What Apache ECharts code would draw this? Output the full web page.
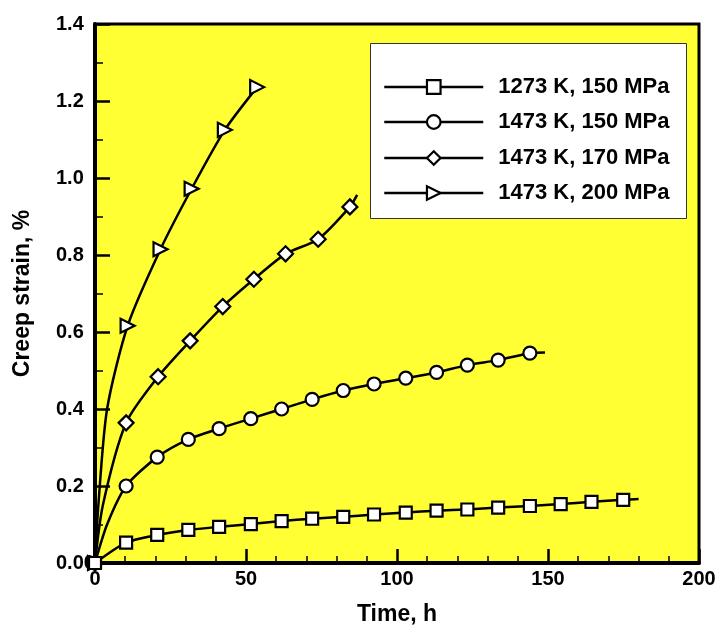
<!DOCTYPE html>
<html>
<head>
<meta charset="utf-8">
<script src="https://cdn.jsdelivr.net/npm/echarts@6/dist/echarts.min.js"></script>
<style>
html,body{margin:0;padding:0;background:#fff;}
#chart{width:718px;height:627px;}
</style>
</head>
<body>
<div id="chart"></div>
<script>
// ---- data ----
const seriesNames = ['1273 K, 150 MPa', '1473 K, 150 MPa', '1473 K, 170 MPa', '1473 K, 200 MPa'];

// 1273 K, 150 MPa (squares)
const sqMarkT = [0, 10.3, 20.6, 30.9, 41.1, 51.6, 61.8, 71.9, 82.2, 92.4, 102.9, 113.1, 123.3, 133.5, 144.0, 154.2, 164.4, 174.9];
const sqMarkV = [0, 0.053, 0.073, 0.086, 0.094, 0.101, 0.109, 0.115, 0.120, 0.126, 0.131, 0.136, 0.139, 0.144, 0.148, 0.153, 0.159, 0.164];
const sqCurveT = [180];
const sqCurveV = [0.166];

// 1473 K, 150 MPa (circles)
const ciMarkT = [0, 10.3, 20.6, 30.9, 41.1, 51.6, 61.8, 71.9, 82.2, 92.4, 102.9, 113.1, 123.3, 133.5, 144.0];
const ciMarkV = [0, 0.200, 0.275, 0.321, 0.349, 0.375, 0.400, 0.425, 0.448, 0.465, 0.480, 0.495, 0.514, 0.527, 0.545];
const ciCurveT = [4.0, 149];
const ciCurveV = [0.100, 0.547];

// 1473 K, 170 MPa (diamonds)
const diMarkT = [0, 10.3, 20.9, 31.5, 42.3, 52.6, 63.1, 73.9, 84.4];
const diMarkV = [0, 0.364, 0.484, 0.577, 0.666, 0.737, 0.803, 0.841, 0.925];
const diCurveT = [2.6, 86.8];
const diCurveV = [0.150, 0.956];

// 1473 K, 200 MPa (right triangles)
const trMarkT = [0, 10.8, 21.7, 32.0, 43.0, 53.7];
const trMarkV = [0, 0.616, 0.815, 0.972, 1.125, 1.236];
const trCurveT = [1.2, 4.0];
const trCurveV = [0.160, 0.400];

// axes
const xTicks = [0, 50, 100, 150, 200];
const yTicks = [0, 0.2, 0.4, 0.6, 0.8, 1.0, 1.2, 1.4];

// ---- build ----
function build(mT, mV, cT, cV) {
  const pts = [];
  mT.forEach((t, i) => pts.push({ value: [t, mV[i]] }));
  cT.forEach((t, i) => pts.push({ value: [t, cV[i]], symbol: 'none' }));
  pts.sort((a, b) => a.value[0] - b.value[0]);
  return pts;
}

const FONT = '"Liberation Sans", Arial, sans-serif';

function mkSeries(name, data, symbol, size, rotate, z) {
  return {
    name: name,
    type: 'line',
    data: data,
    smooth: 0.25,
    symbol: symbol,
    symbolSize: size,
    symbolRotate: rotate,
    showSymbol: true,
    z: z,
    lineStyle: { color: '#000', width: 2.5 },
    itemStyle: { color: '#fff', borderColor: '#000', borderWidth: 2.2 },
    emphasis: { disabled: true },
    animation: false
  };
}

const series = [
  mkSeries(seriesNames[3], build(trMarkT, trMarkV, trCurveT, trCurveV), 'triangle', 14, -90, 2),
  mkSeries(seriesNames[2], build(diMarkT, diMarkV, diCurveT, diCurveV), 'diamond', 15, 0, 3),
  mkSeries(seriesNames[1], build(ciMarkT, ciMarkV, ciCurveT, ciCurveV), 'circle', 13, 0, 4),
  mkSeries(seriesNames[0], build(sqMarkT, sqMarkV, sqCurveT, sqCurveV), 'rect', 12, 0, 5)
];

const legendRowsY = [87, 122, 158, 193];
const legends = seriesNames.map((n, i) => ({
  data: [n],
  left: 383,
  top: legendRowsY[i] - 11,
  padding: 0,
  z: 30,
  itemWidth: 99,
  itemHeight: 17,
  selectedMode: false,
  lineStyle: { color: '#000', width: 2.5 },
  itemStyle: { color: '#fff', borderColor: '#000', borderWidth: 2.2 },
  textStyle: { fontFamily: FONT, fontWeight: 'bold', fontSize: 22, color: '#000', padding: [0, 0, 0, 10] }
}));

const chart = echarts.init(document.getElementById('chart'), null, { renderer: 'canvas' });
chart.setOption({
  animation: false,
  backgroundColor: '#fff',
  grid: {
    left: 95, right: 19, top: 24, bottom: 64,
    outerBoundsMode: 'none', containLabel: false,
    show: true, backgroundColor: '#ffff33', borderColor: '#000', borderWidth: 3
  },
  xAxis: {
    type: 'value', min: xTicks[0], max: xTicks[xTicks.length - 1], interval: 50,
    name: 'Time, h', nameLocation: 'middle', nameGap: 40,
    nameTextStyle: { fontFamily: FONT, fontWeight: 'bold', fontSize: 23, color: '#000' },
    axisLine: { show: true, onZero: false, lineStyle: { color: '#000', width: 4 } },
    axisTick: { show: true, inside: true, length: 14, lineStyle: { color: '#000', width: 2.5 } },
    minorTick: { show: true, splitNumber: 5, length: 7, lineStyle: { color: '#000', width: 1.5 } },
    splitLine: { show: false },
    axisLabel: { margin: 6, fontFamily: FONT, fontWeight: 'bold', fontSize: 20, color: '#000' }
  },
  yAxis: {
    type: 'value', min: yTicks[0], max: yTicks[yTicks.length - 1], interval: 0.2,
    name: 'Creep strain, %', nameLocation: 'middle', nameGap: 61, nameRotate: 90,
    nameTextStyle: { fontFamily: FONT, fontWeight: 'bold', fontSize: 23, color: '#000' },
    axisLine: { show: true, onZero: false, lineStyle: { color: '#000', width: 4 } },
    axisTick: { show: true, inside: true, length: 15, lineStyle: { color: '#000', width: 2.5 } },
    minorTick: { show: true, splitNumber: 2, length: 8, lineStyle: { color: '#000', width: 1.5 } },
    splitLine: { show: false },
    axisLabel: {
      margin: 39, align: 'left', fontFamily: FONT, fontWeight: 'bold', fontSize: 20, color: '#000',
      formatter: v => (v === 0 ? '0.00' : v.toFixed(1))
    }
  },
  legend: legends,
  graphic: [{
    type: 'rect', left: 370, top: 43, z: 20,
    shape: { width: 316, height: 175 },
    style: { fill: '#fff', stroke: '#333', lineWidth: 1 }
  }],
  series: series
});
</script>
</body>
</html>
